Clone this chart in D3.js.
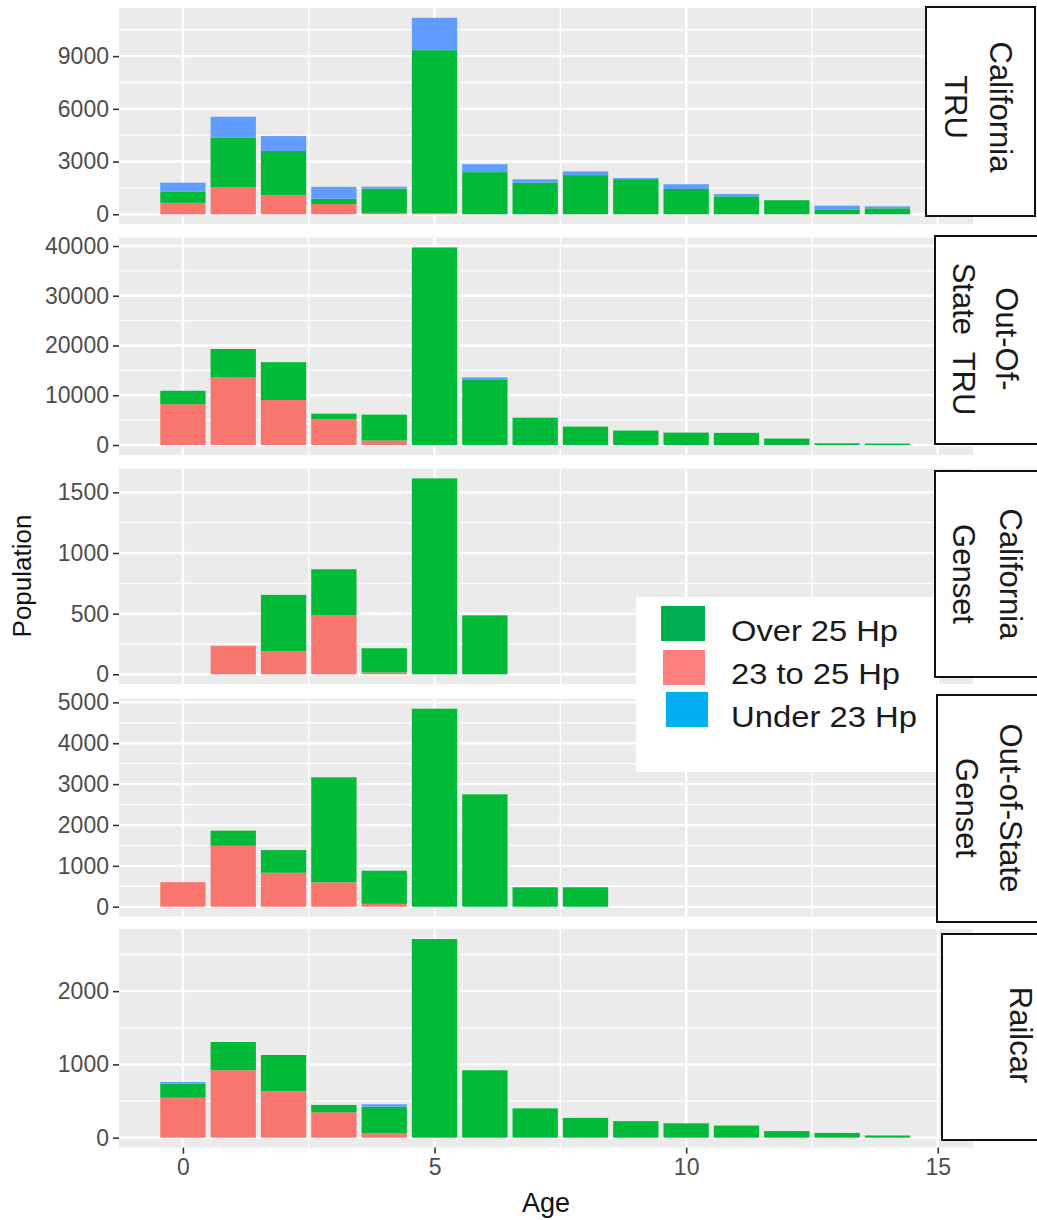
<!DOCTYPE html>
<html><head><meta charset="utf-8">
<script src="https://cdn.jsdelivr.net/npm/d3@7"></script>
<style>
html,body{margin:0;padding:0;background:#fff;}
svg{display:block;font-family:"Liberation Sans",Arial,sans-serif;}
</style></head>
<body>
<svg id="chart" width="1037" height="1220"></svg>
<script>
// ---------- DATA ----------
const ages = [0,1,2,3,4,5,6,7,8,9,10,11,12,13,14];
const seriesNames = ["23 to 25 Hp","Over 25 Hp","Under 23 Hp"]; // stack order bottom -> top
const legendNames = ["Over 25 Hp","23 to 25 Hp","Under 23 Hp"];
const facetNames = [["California","TRU"],["Out-Of-","State  TRU"],["California","Genset"],["Out-of-State","Genset"],["Railcar"]];

const caTruRed   = [650,1550,1100,580,80,50,0,0,0,0,0,0,0,0,0];
const caTruGreen = [650,2800,2500,300,1380,9290,2400,1800,2230,2000,1440,1020,800,280,340];
const caTruBlue  = [500,1200,850,680,110,1840,450,190,210,60,270,130,0,210,110];

const oosTruRed   = [8200,13600,9050,5200,900,0,0,0,0,0,0,0,0,0,0];
const oosTruGreen = [2700,5700,7600,1100,5200,39700,13200,5500,3700,2900,2500,2450,1300,350,300];
const oosTruBlue  = [0,0,0,0,0,0,400,0,0,0,0,0,0,0,0];

const caGenRed   = [0,235,190,486,15,0,0,0,0,0,0,0,0,0,0];
const caGenGreen = [0,0,465,380,200,1615,486,0,0,0,0,0,0,0,0];
const caGenBlue  = [0,0,0,0,0,0,0,0,0,0,0,0,0,0,0];

const oosGenRed   = [600,1490,830,597,70,0,0,0,0,0,0,0,0,0,0];
const oosGenGreen = [0,370,555,2570,810,4845,2750,475,475,0,0,0,0,0,0];
const oosGenBlue  = [0,0,0,0,0,0,0,0,0,0,0,0,0,0,0];

const railRed   = [545,920,633,347,60,0,0,0,0,0,0,0,0,0,0];
const railGreen = [190,386,495,100,363,2711,920,400,270,225,196,165,90,65,30];
const railBlue  = [25,0,0,0,33,0,0,0,0,0,0,0,0,0,0];

const yTicks = [[0,3000,6000,9000],[0,10000,20000,30000,40000],[0,500,1000,1500],[0,1000,2000,3000,4000,5000],[0,1000,2000]];
const yMinor = [[1500,4500,7500,10500],[5000,15000,25000,35000],[250,750,1250],[500,1500,2500,3500,4500],[500,1500,2500]];
const xTicks = [0,5,10,15];
const xMinor = [2.5,7.5,12.5];

const facetData = [
  [caTruRed,caTruGreen,caTruBlue],
  [oosTruRed,oosTruGreen,oosTruBlue],
  [caGenRed,caGenGreen,caGenBlue],
  [oosGenRed,oosGenGreen,oosGenBlue],
  [railRed,railGreen,railBlue]
];

// ---------- LAYOUT ----------
const barColors = {"23 to 25 Hp":"#F8766D","Over 25 Hp":"#00BA38","Under 23 Hp":"#619CFF"};
const legendColors = {"Over 25 Hp":"#00B050","23 to 25 Hp":"#FF7F7F","Under 23 Hp":"#00B0F0"};
const panelX0 = 119, panelX1 = 973;
const panels = [
  {top:8.0, bottom:224.1},
  {top:237.6, bottom:454.9},
  {top:468.6, bottom:684.1},
  {top:698.8, bottom:916.6},
  {top:929.1, bottom:1147.6}
];
const strips = [
  {x:926,y:7,w:109,h:209, lines:[1000,955], cy:107},
  {x:935,y:236,w:110,h:208, lines:[1006,963], cy:339},
  {x:935,y:471,w:110,h:206, lines:[1010,963], cy:574},
  {x:937,y:695,w:110,h:227, lines:[1010,966], cy:808},
  {x:942,y:934,w:110,h:206, lines:[1020], cy:1035}
];

const svg = d3.select("#chart");
const x = d3.scaleLinear().domain([-1.27,15.7]).range([panelX0,panelX1]);
const barW = x(0.9)-x(0);

facetData.forEach((series,fi)=>{
  const p = panels[fi];
  const rows = ages.map((a,i)=>{
    const r = {age:a};
    seriesNames.forEach((s,si)=>r[s]=series[si][i]);
    return r;
  });
  const stack = d3.stack().keys(seriesNames)(rows);
  const maxV = d3.max(rows, r=>d3.sum(seriesNames,s=>r[s]));
  const y = d3.scaleLinear().domain([-0.05*maxV, maxV*1.05]).range([p.bottom,p.top]);
  const g = svg.append("g");
  g.append("rect").attr("x",panelX0).attr("y",p.top).attr("width",panelX1-panelX0).attr("height",p.bottom-p.top).attr("fill","#EBEBEB");
  g.selectAll(".ym").data(yMinor[fi]).join("line").attr("x1",panelX0).attr("x2",panelX1)
    .attr("y1",d=>y(d)).attr("y2",d=>y(d)).attr("stroke","#fff").attr("stroke-width",1.3);
  g.selectAll(".xm").data(xMinor).join("line").attr("y1",p.top).attr("y2",p.bottom)
    .attr("x1",d=>x(d)).attr("x2",d=>x(d)).attr("stroke","#fff").attr("stroke-width",1.3);
  g.selectAll(".yM").data(yTicks[fi]).join("line").attr("x1",panelX0).attr("x2",panelX1)
    .attr("y1",d=>y(d)).attr("y2",d=>y(d)).attr("stroke","#fff").attr("stroke-width",2.4);
  g.selectAll(".xM").data(xTicks).join("line").attr("y1",p.top).attr("y2",p.bottom)
    .attr("x1",d=>x(d)).attr("x2",d=>x(d)).attr("stroke","#fff").attr("stroke-width",2.4);
  stack.forEach(layer=>{
    g.append("g").selectAll("rect").data(layer.filter(d=>d[1]-d[0]>0)).join("rect")
      .attr("x",d=>x(d.data.age)-barW/2).attr("width",barW)
      .attr("y",d=>y(d[1])).attr("height",d=>y(d[0])-y(d[1]))
      .attr("fill",barColors[layer.key]);
  });
  const ax = g.append("g").attr("transform",`translate(${panelX0},0)`)
    .call(d3.axisLeft(y).tickValues(yTicks[fi]).tickSize(6).tickPadding(4).tickFormat(d3.format("d")));
  ax.select(".domain").remove();
  ax.selectAll(".tick line").attr("stroke","#333").attr("stroke-width",1.6);
  ax.selectAll(".tick text").attr("fill","#4D4D4D").style("font-size","23px").style("font-family","'Liberation Sans',Arial,sans-serif");
  if(fi===4){
    const bx = g.append("g").attr("transform",`translate(0,${p.bottom})`)
      .call(d3.axisBottom(x).tickValues(xTicks).tickSize(6).tickPadding(5).tickFormat(d3.format("d")));
    bx.select(".domain").remove();
    bx.selectAll(".tick line").attr("stroke","#333").attr("stroke-width",1.6);
    bx.selectAll(".tick text").attr("fill","#4D4D4D").style("font-size","23px").style("font-family","'Liberation Sans',Arial,sans-serif");
  }
});

svg.append("text").attr("x",546).attr("y",1212).attr("text-anchor","middle")
  .style("font-size","27px").attr("fill","#111").text("Age");
svg.append("text").attr("transform","translate(31,576) rotate(-90)").attr("text-anchor","middle")
  .style("font-size","26px").attr("fill","#111").text("Population");

// legend
const lg = svg.append("g");
lg.append("rect").attr("x",636).attr("y",597).attr("width",300).attr("height",175).attr("fill","#fff");
const keyBoxes = [{x:661,y:606,w:44,h:35,base:641,len:167},{x:663,y:650,w:42,h:35,base:684,len:169},{x:666,y:692,w:42,h:35,base:727,len:186}];
legendNames.forEach((n,i)=>{
  const k = keyBoxes[i];
  lg.append("rect").attr("x",k.x).attr("y",k.y).attr("width",k.w).attr("height",k.h).attr("fill",legendColors[n]);
  lg.append("text").attr("x",731).attr("y",k.base).style("font-size","30px")
    .attr("textLength",k.len).attr("lengthAdjust","spacingAndGlyphs").attr("fill","#1a1a1a").text(n);
});

// strips
strips.forEach((s,i)=>{
  svg.append("rect").attr("x",s.x).attr("y",s.y).attr("width",s.w).attr("height",s.h)
    .attr("fill","#fff").attr("stroke","#111").attr("stroke-width",2);
  facetNames[i].forEach((t,li)=>{
    svg.append("text").attr("transform",`translate(${s.lines[li]},${s.cy}) rotate(90)`)
      .attr("text-anchor","middle").attr("dominant-baseline","central")
      .style("font-size","31px").attr("fill","#1a1a1a").style("white-space","pre").text(t);
  });
});
</script>
</body></html>
